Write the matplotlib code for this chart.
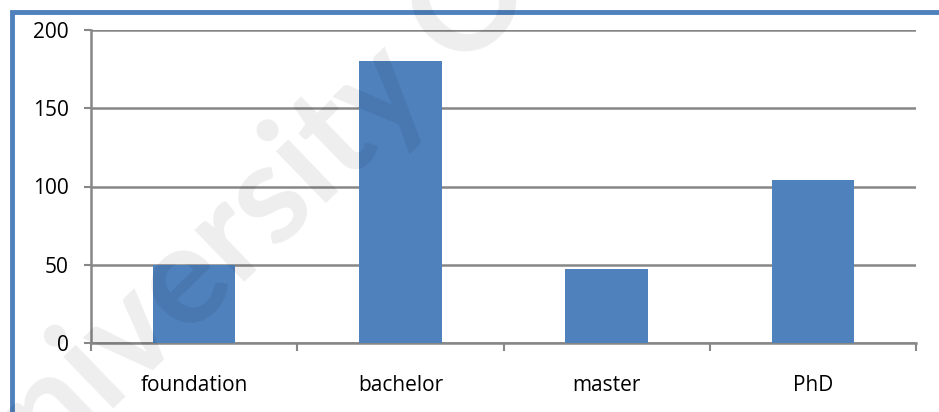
import matplotlib
matplotlib.use("Agg")
import matplotlib.pyplot as plt
from matplotlib.patches import Rectangle

plt.rcParams['font.family'] = ['Open Sans', 'DejaVu Sans']

# data
categories = ['foundation', 'bachelor', 'master', 'PhD']
values = [50, 180, 47, 104]
yticks = [0, 50, 100, 150, 200]

bar_color = '#4F81BD'
grid_color = '#878787'

fig = plt.figure(figsize=(9.39, 4.12), dpi=100)
ax = fig.add_axes([91 / 939, 1 - 343 / 412, (916 - 91) / 939, (343 - 30) / 412])

x = list(range(len(categories)))
ax.bar(x, values, width=0.4, color=bar_color, zorder=3)

ax.set_xlim(-0.5, len(categories) - 0.5)
ax.set_ylim(0, 200)
ax.set_yticks(yticks)
ax.set_yticklabels([str(v) for v in yticks], fontsize=15)
ax.yaxis.grid(True, color=grid_color, linewidth=1.8, zorder=0)

# category boundaries get the tick marks, centres get the labels
ax.set_xticks([i - 0.5 for i in range(len(categories) + 1)])
ax.set_xticklabels([])
ax.set_xticks(x, minor=True)
ax.set_xticklabels(categories, minor=True, fontsize=15)
ax.tick_params(axis='x', which='major', direction='out', length=6, width=1.5, color=grid_color)
ax.tick_params(axis='x', which='minor', length=0, pad=23)
ax.tick_params(axis='y', direction='out', length=5, width=1.5, color=grid_color, pad=11)

for s in ['top', 'right']:
    ax.spines[s].set_visible(False)
for s in ['left', 'bottom']:
    ax.spines[s].set_color(grid_color)
    ax.spines[s].set_linewidth(1.8)

# outer chart frame (cut off at right and bottom)
fig.patches.append(Rectangle((11.5 / 939, -0.2), 1.2, 1.2 - 11.5 / 412,
                             transform=fig.transFigure, fill=False,
                             edgecolor=bar_color, linewidth=3.5))

# watermark
fig.text(0.265, 0.46, 'University Of', fontsize=100, color='#000000', alpha=0.07,
         family='Lato', fontweight='bold', rotation=44, ha='center', va='center', zorder=10)

fig.savefig('out.png', dpi=100)
